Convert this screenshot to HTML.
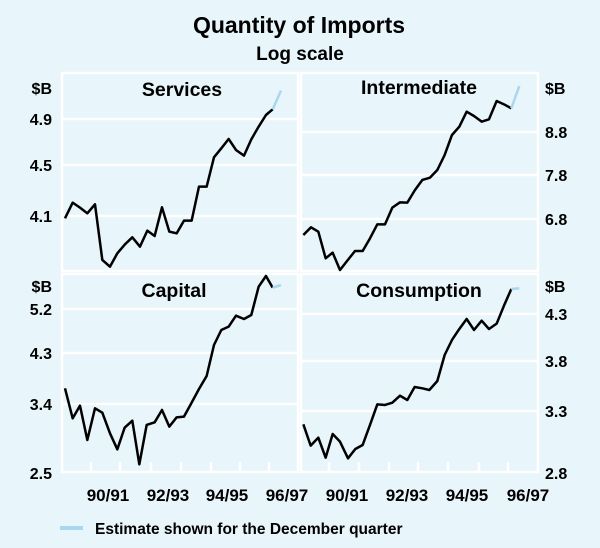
<!DOCTYPE html>
<html><head><meta charset="utf-8"><style>
html,body{margin:0;padding:0;background:#e8f5fa;}
svg{display:block;font-family:"Liberation Sans",Arial,sans-serif;}
</style></head><body>
<svg width="600" height="548" viewBox="0 0 600 548" xmlns="http://www.w3.org/2000/svg">
<rect width="600" height="548" fill="#e8f5fa"/>
<text x="299" y="33" font-size="23" font-weight="bold" text-anchor="middle">Quantity of Imports</text>
<text x="300" y="60" font-size="19" font-weight="bold" text-anchor="middle">Log scale</text>
<g fill="none" stroke="#fff" stroke-width="2.5">
<rect x="62" y="73" width="236" height="198"/>
<rect x="301" y="73" width="237" height="198"/>
<rect x="62" y="274" width="236" height="198"/>
<rect x="301" y="274" width="237" height="198"/>
<line x1="62" y1="119" x2="298" y2="119"/><line x1="62" y1="165" x2="298" y2="165"/><line x1="62" y1="216" x2="298" y2="216"/>
<line x1="301" y1="132" x2="538" y2="132"/><line x1="301" y1="175" x2="538" y2="175"/><line x1="301" y1="219" x2="538" y2="219"/>
<line x1="62" y1="309" x2="298" y2="309"/><line x1="62" y1="353" x2="298" y2="353"/><line x1="62" y1="404" x2="298" y2="404"/>
<line x1="301" y1="314" x2="538" y2="314"/><line x1="301" y1="361" x2="538" y2="361"/><line x1="301" y1="411" x2="538" y2="411"/>
<path d="M91,472v-10M120,472v-10M151,472v-10M181,472v-10M211,472v-10M240,472v-10M269,472v-10M329,472v-10M359,472v-10M389,472v-10M418,472v-10M448,472v-10M479,472v-10M508,472v-10"/>
</g>
<g font-size="16" font-weight="bold">
<text x="182" y="96" text-anchor="middle" font-size="19.5">Services</text>
<text x="419" y="94" text-anchor="middle" font-size="19.5">Intermediate</text>
<text x="174" y="297" text-anchor="middle" font-size="19.5">Capital</text>
<text x="419" y="297" text-anchor="middle" font-size="19.5">Consumption</text>
<g text-anchor="end">
<text x="52" y="94">$B</text><text x="52" y="125">4.9</text><text x="52" y="171">4.5</text><text x="52" y="222">4.1</text>
<text x="52" y="292">$B</text><text x="52" y="315">5.2</text><text x="52" y="359">4.3</text><text x="52" y="410">3.4</text><text x="52" y="479">2.5</text>
</g>
<text x="545" y="94">$B</text><text x="545" y="138">8.8</text><text x="545" y="181">7.8</text><text x="545" y="225">6.8</text>
<text x="545" y="292">$B</text><text x="545" y="320">4.3</text><text x="545" y="367">3.8</text><text x="545" y="417">3.3</text><text x="545" y="479">2.8</text>
<g text-anchor="middle" font-size="17">
<text x="108" y="501">90/91</text><text x="168" y="501">92/93</text><text x="227" y="501">94/95</text><text x="287" y="501">96/97</text>
<text x="347" y="501">90/91</text><text x="407" y="501">92/93</text><text x="467" y="501">94/95</text><text x="528" y="501">96/97</text>
</g>
</g>
<line x1="60" y1="528" x2="83" y2="528" stroke="#a8d8f0" stroke-width="4"/>
<text x="95" y="534" font-size="15.5" font-weight="bold">Estimate shown for the December quarter</text>
<g fill="none" stroke-linejoin="round" stroke-width="7.5">
<g transform="translate(0,60) scale(0.3333)">
<polyline stroke="#000" points="195,475 218,428 240,443 262,460 285,433 307,600 330,620 352,580 375,553 397,532 420,560 442,512 464,528 486,442 508,515 530,520 552,482 575,482 597,380 620,380 642,292 664,265 686,237 708,270 732,287 754,238 776,200 798,165 818,148"/>
<polyline stroke="#a8d8f0" points="818,148 843,92"/>
</g>
<g transform="translate(290,60) scale(0.3333)">
<polyline stroke="#000" points="40,525 63,502 85,515 107,595 128,578 150,630 172,602 195,573 218,573 240,535 262,493 285,493 307,443 330,427 352,428 375,390 397,360 420,353 442,330 464,285 486,225 508,200 530,155 552,168 575,185 597,178 620,123 642,133 664,145"/>
<polyline stroke="#a8d8f0" points="664,145 688,78"/>
</g>
<g transform="translate(0,265) scale(0.3333)">
<polyline stroke="#000" points="195,370 218,460 240,422 262,525 285,430 307,443 330,505 352,553 374,488 397,467 418,598 440,480 464,472 486,435 508,485 530,457 552,455 575,413 597,372 620,333 642,240 664,195 686,185 708,152 732,162 754,150 776,65 798,33 818,68"/>
<polyline stroke="#a8d8f0" points="818,68 843,60"/>
</g>
<g transform="translate(290,265) scale(0.3333)">
<polyline stroke="#000" points="40,478 62,542 85,518 107,578 128,507 150,530 174,580 196,552 218,540 240,480 262,418 285,420 307,413 330,392 352,405 374,366 397,370 418,375 442,348 464,270 486,225 508,192 530,162 552,195 575,167 597,192 620,176 642,122 664,72"/>
<polyline stroke="#a8d8f0" points="664,72 688,70"/>
</g>
</g>
</svg>
</body></html>
